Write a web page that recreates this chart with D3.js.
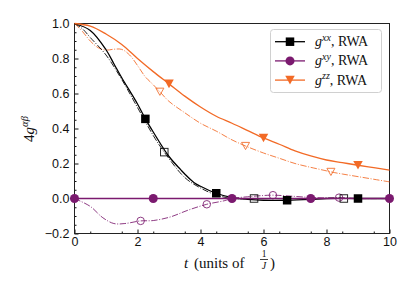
<!DOCTYPE html>
<html lang="en">
<head>
<meta charset="UTF-8"/>
<title>4g correlations vs t</title>
<script src="https://d3js.org/d3.v7.min.js"></script>
<style>
  body { margin: 0; background: #fff; }
  svg { display: block; font-family: "Liberation Serif", "DejaVu Serif", serif; }
  .tick text { font-size: 12.5px; fill: #111; }
</style>
</head>
<body>
<svg id="chart" width="415" height="295"></svg>
<script>
// ---- data ----
// g^xx, RWA (black solid)
const xxT = [0, 0.5, 1, 1.25, 1.5, 2, 2.25, 2.5, 3, 3.37, 3.5, 3.8, 4, 4.5, 5, 5.5, 6, 6.75, 7.5, 8, 9, 10];
const xxV = [1.0, 0.96, 0.85, 0.77, 0.69, 0.54, 0.455, 0.38, 0.24, 0.165, 0.14, 0.09, 0.07, 0.03, 0.005, -0.005, -0.01, -0.01, -0.005, 0, 0, 0];
const xxMarkT = [2.25, 4.5, 6.75, 9];
const xxMarkV = [0.455, 0.03, -0.01, 0.0];
// g^xx exact (black dash-dot)
const xxeT = [0, 0.25, 0.5, 1, 1.5, 2, 2.5, 2.85, 3.5, 4, 4.5, 5, 5.7, 7, 8.55, 10];
const xxeV = [1.0, 0.97, 0.92, 0.82, 0.68, 0.52, 0.36, 0.265, 0.12, 0.06, 0.02, 0.0, 0.0, 0.0, 0.0, 0.0];
const xxeMarkT = [2.85, 5.7, 8.55];
const xxeMarkV = [0.265, 0.0, 0.0];
// g^xy, RWA (purple solid)
const xyT = [0, 2.5, 5, 7.5, 10];
const xyV = [0, 0, 0, 0, 0];
const xyMarkT = [0, 2.5, 5, 7.5, 10];
const xyMarkV = [0, 0, 0, 0, 0];
// g^xy exact (purple dash-dot)
const xyeT = [0, 0.5, 0.9, 1.25, 1.6, 2.1, 2.5, 3.05, 3.6, 4.2, 4.75, 5, 5.5, 6, 6.3, 7, 7.5, 8, 8.4, 9, 10];
const xyeV = [0, -0.045, -0.11, -0.143, -0.143, -0.128, -0.126, -0.105, -0.067, -0.033, -0.013, 0.0, 0.01, 0.017, 0.019, 0.012, 0.006, 0.004, 0.005, 0.0, 0.0];
const xyeMarkT = [2.1, 4.2, 6.3, 8.4];
const xyeMarkV = [-0.128, -0.033, 0.019, 0.005];
// g^zz, RWA (orange solid)
const zzT = [0, 0.5, 1, 1.5, 2, 2.5, 3, 3.5, 4, 4.5, 5, 5.5, 6, 6.5, 7, 7.5, 8, 8.5, 9, 9.5, 10];
const zzV = [1.0, 0.985, 0.94, 0.88, 0.80, 0.725, 0.655, 0.585, 0.523, 0.47, 0.43, 0.388, 0.346, 0.31, 0.272, 0.243, 0.22, 0.205, 0.19, 0.176, 0.162];
const zzMarkT = [3, 6, 9];
const zzMarkV = [0.655, 0.346, 0.19];
// g^zz exact (orange dash-dot)
const zzeT = [0, 0.25, 0.5, 0.75, 1, 1.25, 1.5, 1.75, 2, 2.25, 2.5, 2.71, 3, 3.5, 4, 4.5, 5, 5.43, 6, 6.5, 7, 7.5, 8, 8.14, 8.5, 9, 9.5, 10];
const zzeV = [1.0, 0.955, 0.9, 0.862, 0.848, 0.853, 0.852, 0.82, 0.76, 0.695, 0.65, 0.61, 0.555, 0.49, 0.43, 0.385, 0.335, 0.3, 0.26, 0.23, 0.2, 0.178, 0.158, 0.152, 0.14, 0.125, 0.11, 0.095];
const zzeMarkT = [2.71, 5.43, 8.14];
const zzeMarkV = [0.61, 0.3, 0.152];

const xTicks = [0, 2, 4, 6, 8, 10];
const yTicks = [-0.2, 0.0, 0.2, 0.4, 0.6, 0.8, 1.0];
const legendLabels = ["xx", "xy", "zz"];

// ---- layout ----
const svg = d3.select("#chart");
const pL = 74.5, pR = 389.5, pT = 23.5, pB = 233.5;
const x = d3.scaleLinear().domain([0, 10]).range([pL, pR]);
const y = d3.scaleLinear().domain([-0.2, 1.0]).range([pB, pT]);

const BLACK = "#000", PURPLE = "#7b1a6f", ORANGE = "#f26a26";

// axes, inward ticks
svg.append("g").attr("transform", `translate(0,${pB})`)
  .call(d3.axisBottom(x).tickValues(xTicks).tickSizeInner(-4).tickSizeOuter(0).tickPadding(4).tickFormat(d3.format("d")));
svg.append("g").attr("transform", `translate(0,${pB})`)
  .call(d3.axisBottom(x).tickValues(d3.range(0.5, 10, 1)).tickSizeInner(-2).tickSizeOuter(0).tickFormat(""));
svg.append("g").attr("transform", `translate(${pL},0)`)
  .call(d3.axisLeft(y).tickValues(yTicks).tickSizeInner(-4).tickSizeOuter(0).tickPadding(5)
    .tickFormat(d => d < 0 ? "\u22120.2" : d3.format(".1f")(d)));
svg.append("g").attr("transform", `translate(${pL},0)`)
  .call(d3.axisLeft(y).tickValues(d3.range(-0.15, 1.0, 0.05).filter(v => Math.abs(Math.round(v * 5) - v * 5) > 0.01))
    .tickSizeInner(-2).tickSizeOuter(0).tickFormat(""));
svg.selectAll(".domain").remove();
svg.selectAll(".tick line").attr("stroke", "#111");

// frame
svg.append("rect").attr("x", pL).attr("y", pT).attr("width", pR - pL).attr("height", pB - pT)
  .attr("fill", "none").attr("stroke", "#222").attr("stroke-width", 1);

const line = d3.line().x(d => x(d[0])).y(d => y(d[1])).curve(d3.curveCatmullRom.alpha(0.5));
svg.append("clipPath").attr("id", "clip").append("rect")
  .attr("x", pL - 6).attr("y", pT - 6).attr("width", pR - pL + 12).attr("height", pB - pT + 6);
const plot = svg.append("g").attr("clip-path", "url(#clip)");

function series(T, V, color, dashed, width, opacity) {
  plot.append("path").datum(d3.zip(T, V)).attr("d", line)
    .attr("fill", "none").attr("stroke", color).attr("stroke-width", width)
    .attr("stroke-opacity", opacity)
    .attr("stroke-dasharray", dashed ? "6.4,1.6,1,1.6" : null);
}

function marker(g, kind, cx, cy, color, filled, s) {
  const fill = filled ? color : "none";
  const sw = filled ? 0 : 1;
  if (kind === "square") {
    g.append("rect").attr("x", cx - s / 2).attr("y", cy - s / 2).attr("width", s).attr("height", s)
      .attr("fill", fill).attr("stroke", color).attr("stroke-width", sw);
  } else if (kind === "circle") {
    g.append("circle").attr("cx", cx).attr("cy", cy).attr("r", s / 2)
      .attr("fill", fill).attr("stroke", color).attr("stroke-width", sw);
  } else {
    const h = s * 0.9;
    g.append("path").attr("d", `M${cx - s / 2},${cy - h / 2}L${cx + s / 2},${cy - h / 2}L${cx},${cy + h / 2}Z`)
      .attr("fill", fill).attr("stroke", color).attr("stroke-width", sw);
  }
}

function markers(T, V, kind, color, filled, s, opacity) {
  const g = plot.append("g").attr("opacity", opacity);
  T.forEach((t, i) => marker(g, kind, x(t), y(V[i]), color, filled, s));
}

// dash-dot (exact) curves
series(zzeT, zzeV, ORANGE, true, 1, 0.85);
series(xyeT, xyeV, PURPLE, true, 1, 0.85);
series(xxeT, xxeV, BLACK, true, 1, 0.85);
markers(zzeMarkT, zzeMarkV, "triangle", ORANGE, false, 8, 0.85);
markers(xyeMarkT, xyeMarkV, "circle", PURPLE, false, 7.5, 0.85);
markers(xxeMarkT, xxeMarkV, "square", BLACK, false, 7.5, 0.85);

// RWA curves
series(xxT, xxV, BLACK, false, 1.3, 1);
series(zzT, zzV, ORANGE, false, 1.3, 1);
series(xyT, xyV, PURPLE, false, 1.3, 1);
markers(xxMarkT, xxMarkV, "square", BLACK, true, 8.5, 1);
markers(zzMarkT, zzMarkV, "triangle", ORANGE, true, 9.5, 1);
markers(xyMarkT, xyMarkV, "circle", PURPLE, true, 9, 1);

// legend
const lg = svg.append("g");
lg.append("rect").attr("x", 270.5).attr("y", 29.5).attr("width", 111).attr("height", 63).attr("rx", 3)
  .attr("fill", "#fff").attr("fill-opacity", 0.85).attr("stroke", "#d0d0d0");
const legendColors = [BLACK, PURPLE, ORANGE];
const legendKinds = ["square", "circle", "triangle"];
legendLabels.forEach((lab, i) => {
  const yy = 41.7 + i * 19.2;
  lg.append("line").attr("x1", 275).attr("x2", 305).attr("y1", yy).attr("y2", yy)
    .attr("stroke", legendColors[i]).attr("stroke-width", 1.3);
  marker(lg, legendKinds[i], 290, yy, legendColors[i], true, legendKinds[i] === "triangle" ? 9.5 : (i === 1 ? 9 : 8.5));
  const t = lg.append("text").attr("x", 315).attr("y", yy + 4.5).attr("font-size", 14).attr("fill", "#111");
  t.append("tspan").attr("font-style", "italic").text("g");
  t.append("tspan").attr("font-style", "italic").attr("font-size", 10).attr("dy", -5.5).text(lab);
  t.append("tspan").attr("dy", 5.5).text(", RWA");
});

// y label
const yl = svg.append("text").attr("transform", "translate(34,129) rotate(-90)")
  .attr("text-anchor", "middle").attr("font-size", 15).attr("fill", "#111");
yl.append("tspan").text("4");
yl.append("tspan").attr("font-style", "italic").text("g");
yl.append("tspan").attr("font-style", "italic").attr("font-size", 10.5).attr("dy", -6).text("αβ");

// x label
const xl = svg.append("g").attr("fill", "#111");
xl.append("text").attr("x", 184).attr("y", 268).attr("font-size", 15).attr("font-style", "italic").text("t");
xl.append("text").attr("x", 194).attr("y", 268).attr("font-size", 15).text("(units of");
xl.append("text").attr("x", 264).attr("y", 257).attr("font-size", 9.5).attr("text-anchor", "middle").text("1");
xl.append("line").attr("x1", 260).attr("x2", 268).attr("y1", 259.5).attr("y2", 259.5).attr("stroke", "#111").attr("stroke-width", 0.8);
xl.append("text").attr("x", 264).attr("y", 269).attr("font-size", 10).attr("font-style", "italic").attr("text-anchor", "middle").text("J");
xl.append("text").attr("x", 270).attr("y", 268).attr("font-size", 15).text(")");
</script>
</body>
</html>
